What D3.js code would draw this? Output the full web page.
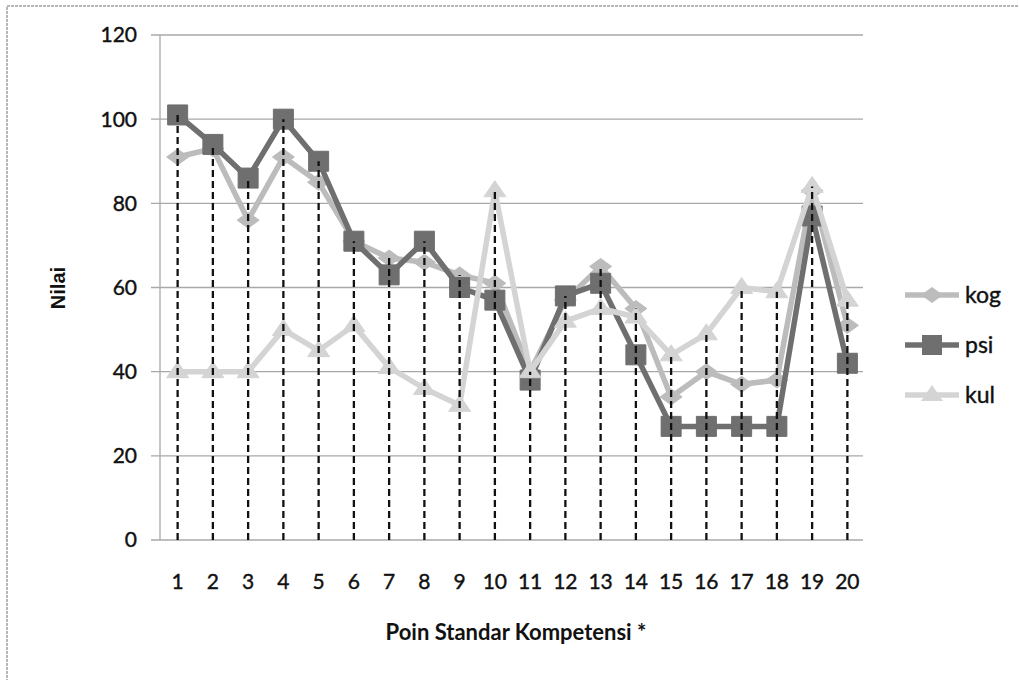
<!DOCTYPE html>
<html>
<head>
<meta charset="utf-8">
<script src="https://cdn.jsdelivr.net/npm/d3@7"></script>
<style>
  body { margin: 0; background: #fff; }
  svg { display: block; }
</style>
</head>
<body>
<svg id="chart" width="1019" height="680"></svg>
<script>
const categories = d3.range(1, 21).map(String);
const kog = [91, 93, 76, 91, 85, 71, 67, 66, 63, 61, 40, 57, 65, 55, 34, 40, 37, 38, 83, 51];
const psi = [101, 94, 86, 100, 90, 71, 63, 71, 60, 57, 38, 58, 61, 44, 27, 27, 27, 27, 77, 42];
const kul = [40, 40, 40, 50, 45, 51, 41, 36, 32, 83, 40, 52, 55, 53, 44, 49, 60, 59, 84, 57];
const yTicks = [0, 20, 40, 60, 80, 100, 120];

const series = [
  {name: "kog", values: kog, color: "#bcbcbc", shape: "diamond"},
  {name: "psi", values: psi, color: "#6f6f6f", shape: "square"},
  {name: "kul", values: kul, color: "#d4d4d4", shape: "triangle"}
];

const svg = d3.select("#chart");
const font = "Lato, 'Open Sans', sans-serif";

// outer frame
svg.append("path")
  .attr("d", "M7,690 L7,6 L1030,6")
  .attr("fill", "none")
  .attr("stroke", "#a0a0a0")
  .attr("stroke-width", 1.5)
  .attr("stroke-dasharray", "3,1");

const x = d3.scaleBand().domain(categories).range([160, 865]).padding(0);
const y = d3.scaleLinear().domain([0, 120]).range([540, 35]);
const cx = c => x(c) + x.bandwidth() / 2;

// gridlines
svg.append("g")
  .selectAll("line")
  .data(yTicks)
  .join("line")
    .attr("x1", 151).attr("x2", 863)
    .attr("y1", d => y(d)).attr("y2", d => y(d))
    .attr("stroke", "#a8a8a8")
    .attr("stroke-width", 1.3);

svg.append("line")
  .attr("x1", 160).attr("x2", 160)
  .attr("y1", y(120)).attr("y2", y(0))
  .attr("stroke", "#a8a8a8")
  .attr("stroke-width", 1.3);

// y tick labels
svg.append("g")
  .selectAll("text")
  .data(yTicks)
  .join("text")
    .attr("x", 137)
    .attr("y", d => y(d))
    .attr("dy", "0.35em")
    .attr("text-anchor", "end")
    .attr("font-family", font)
    .attr("font-size", 21)
    .attr("fill", "#111")
    .attr("stroke", "#111")
    .attr("stroke-width", 0.4)
    .text(d => d);

// x tick labels
svg.append("g")
  .selectAll("text")
  .data(categories)
  .join("text")
    .attr("x", d => cx(d))
    .attr("y", 582)
    .attr("dy", "0.35em")
    .attr("text-anchor", "middle")
    .attr("font-family", font)
    .attr("font-size", 21)
    .attr("fill", "#111")
    .attr("stroke", "#111")
    .attr("stroke-width", 0.4)
    .text(d => d);

// axis titles
svg.append("text")
  .attr("x", 516).attr("y", 632)
  .attr("dy", "0.35em")
  .attr("text-anchor", "middle")
  .attr("font-family", font)
  .attr("font-weight", "bold")
  .attr("font-size", 22)
  .attr("fill", "#111")
  .text("Poin Standar Kompetensi *");

svg.append("text")
  .attr("transform", "translate(58,288) rotate(-90)")
  .attr("dy", "0.35em")
  .attr("text-anchor", "middle")
  .attr("font-family", "'Liberation Sans', Arial, sans-serif")
  .attr("font-weight", "bold")
  .attr("font-size", 20)
  .attr("fill", "#111")
  .text("Nilai");

function symbolPath(shape) {
  if (shape === "square") return "M-10,-10H10V10H-10Z";
  if (shape === "diamond") return "M-11,0L0,-8L11,0L0,8Z";
  return "M0,-10L11,6H-11Z";
}

const line = d3.line()
  .x((d, i) => cx(categories[i]))
  .y(d => y(d));

series.forEach(s => {
  const g = svg.append("g");
  g.append("path")
    .datum(s.values)
    .attr("d", line)
    .attr("fill", "none")
    .attr("stroke", s.color)
    .attr("stroke-width", 5.5)
    .attr("stroke-linejoin", "round");
  g.selectAll("path.m")
    .data(s.values)
    .join("path")
      .attr("class", "m")
      .attr("transform", (d, i) => `translate(${cx(categories[i])},${y(d)})`)
      .attr("d", symbolPath(s.shape))
      .attr("fill", s.color)
      .attr("stroke", s.color)
      .attr("stroke-width", 1);
});

// drop lines
svg.append("g")
  .selectAll("line")
  .data(categories)
  .join("line")
    .attr("x1", d => cx(d)).attr("x2", d => cx(d))
    .attr("y1", y(0))
    .attr("y2", (d, i) => y(Math.max(kog[i], psi[i], kul[i])))
    .attr("stroke", "#111")
    .attr("stroke-width", 2.3)
    .attr("stroke-dasharray", "7,4");

// legend
const legend = svg.append("g")
  .selectAll("g")
  .data(series)
  .join("g")
    .attr("transform", (d, i) => `translate(905,${295 + i * 50})`);

legend.append("line")
  .attr("x1", 0).attr("x2", 54)
  .attr("stroke", d => d.color)
  .attr("stroke-width", 5.5);

legend.append("path")
  .attr("transform", "translate(27,0)")
  .attr("d", d => symbolPath(d.shape))
  .attr("fill", d => d.color);

legend.append("text")
  .attr("x", 60)
  .attr("dy", "0.35em")
  .attr("font-family", font)
  .attr("font-size", 23)
  .attr("fill", "#111")
  .attr("stroke", "#111")
  .attr("stroke-width", 0.4)
  .text(d => d.name);
</script>
</body>
</html>
